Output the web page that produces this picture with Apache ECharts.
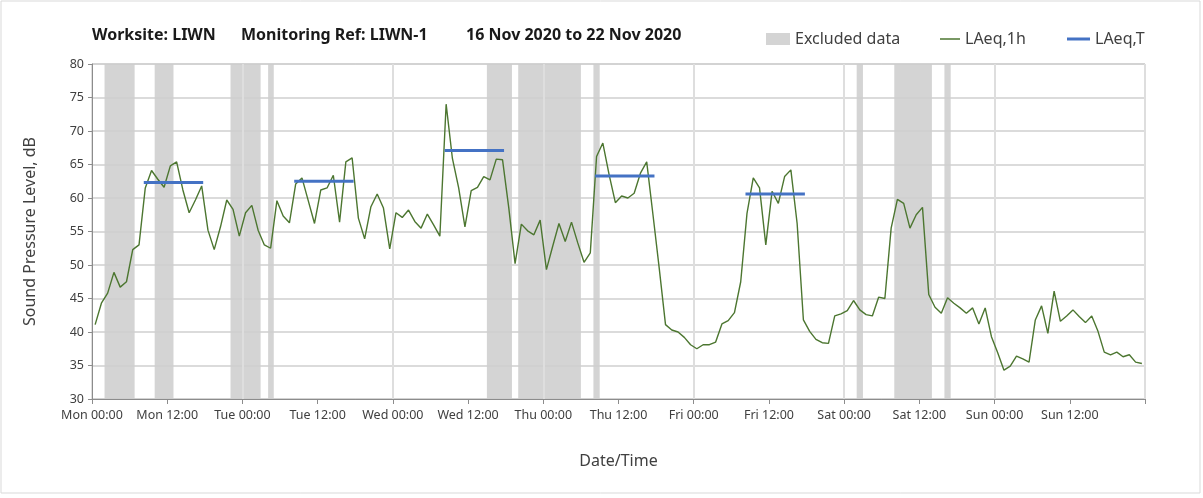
<!DOCTYPE html>
<html>
<head>
<meta charset="utf-8">
<script src="https://cdn.jsdelivr.net/npm/echarts@6/dist/echarts.min.js"></script>
<style>
  html, body { margin: 0; padding: 0; background: #fff; }
  #chart { width: 1203px; height: 498px; }
</style>
</head>
<body>
<div id="chart"></div>
<script>
// hourly LAeq,1h values, Mon 00:00 onwards (one per hour)
var laeq1h = [
  41.1, 44.3, 45.8, 48.9, 46.7, 47.5, 52.3, 53.0, 61.5, 64.1, 62.8, 61.6,
  64.8, 65.4, 61.2, 57.8, 59.7, 61.8, 55.2, 52.3, 55.7, 59.7, 58.3, 54.3,
  57.8, 58.9, 55.2, 53.0, 52.5, 59.6, 57.3, 56.3, 62.1, 63.0, 59.6, 56.2,
  61.2, 61.5, 63.4, 56.4, 65.4, 66.0, 57.0, 53.9, 58.7, 60.6, 58.5, 52.4,
  57.8, 57.1, 58.2, 56.5, 55.5, 57.6, 56.0, 54.3, 74.0, 65.9, 61.5, 55.7,
  61.1, 61.6, 63.2, 62.7, 65.8, 65.7, 58.5, 50.2, 56.1, 55.1, 54.5, 56.7,
  49.3, 52.8, 56.2, 53.5, 56.4, 53.3, 50.4, 51.8, 66.2, 68.2, 63.5, 59.3,
  60.3, 60.0, 60.7, 63.7, 65.4, 57.5, 49.5, 41.1, 40.3, 40.0, 39.2, 38.1,
  37.5, 38.1, 38.1, 38.5, 41.2, 41.7, 42.9, 47.5, 57.7, 63.0, 61.5, 53.0,
  61.0, 59.2, 63.2, 64.2, 56.2, 41.8, 40.1, 38.9, 38.4, 38.3, 42.4, 42.7,
  43.2, 44.7, 43.3, 42.6, 42.4, 45.2, 45.0, 55.5, 59.8, 59.2, 55.5, 57.5,
  58.6, 45.6, 43.7, 42.8, 45.1, 44.3, 43.6, 42.8, 43.6, 41.2, 43.6, 39.3,
  36.9, 34.3, 34.9, 36.4, 36.0, 35.5, 41.8, 43.9, 39.8, 46.1, 41.6, 42.4,
  43.3, 42.3, 41.4, 42.4, 40.1, 37.0, 36.6, 37.0, 36.3, 36.6, 35.5, 35.3
];

// LAeq,T daytime periods (hours from Mon 00:00)
var periodStart = [8.5, 32.5, 56.5, 80.5, 104.5];
var periodEnd   = [17.5, 41.5, 65.5, 89.5, 113.5];
var periodLevel = [62.3, 62.5, 67.1, 63.3, 60.6];

// excluded data spans (hours from Mon 00:00)
var excludedStart = [2, 10, 22.1, 28.1, 63, 68, 80, 122, 128, 136];
var excludedEnd   = [6.8, 13, 26.9, 29, 67, 78, 81, 123, 134, 137];

var tickLabels = [
  'Mon 00:00', 'Mon 12:00', 'Tue 00:00', 'Tue 12:00', 'Wed 00:00', 'Wed 12:00',
  'Thu 00:00', 'Thu 12:00', 'Fri 00:00', 'Fri 12:00', 'Sat 00:00', 'Sat 12:00',
  'Sun 00:00', 'Sun 12:00'
];

var FONT = 'Noto Sans';
var GREEN = '#4c7630';
var BLUE = '#4472c4';
var chart = echarts.init(document.getElementById('chart'));

var lineData = laeq1h.map(function (v, i) { return [i + 0.5, v]; });
var bandData = excludedStart.map(function (s, i) { return [s, excludedEnd[i]]; });

var series = [
  {
    name: 'Excluded data',
    type: 'custom',
    z: -1,
    silent: true,
    itemStyle: { color: '#d4d4d4' },
    encode: { x: [0, 1] },
    data: bandData,
    renderItem: function (params, api) {
      var cs = params.coordSys;
      var a = api.coord([api.value(0), 30]);
      var b = api.coord([api.value(1), 30]);
      return {
        type: 'rect',
        shape: { x: a[0], y: cs.y, width: b[0] - a[0], height: cs.height },
        style: { fill: '#d4d4d4' }
      };
    }
  },
  {
    name: 'LAeq,1h',
    type: 'line',
    symbol: 'none',
    itemStyle: { color: GREEN },
    lineStyle: { width: 1.4, color: GREEN },
    data: lineData
  }
];

periodStart.forEach(function (s, i) {
  series.push({
    name: 'LAeq,T',
    type: 'line',
    symbol: 'none',
    itemStyle: { color: BLUE },
    lineStyle: { width: 3, color: BLUE, cap: 'square' },
    data: [[s, periodLevel[i]], [periodEnd[i], periodLevel[i]]]
  });
});

function legendAt(name, left, w, h) {
  return {
    data: [{ name: name, icon: 'rect' }],
    left: left, top: 31, padding: 0,
    itemWidth: w, itemHeight: h,
    selectedMode: false,
    textStyle: { fontFamily: FONT, fontSize: 16, color: '#404040' }
  };
}

chart.setOption({
  animation: false,
  textStyle: { fontFamily: FONT },
  title: [
    { text: 'Worksite: LIWN', left: 92 },
    { text: 'Monitoring Ref: LIWN-1', left: 241 },
    { text: '16 Nov 2020 to 22 Nov 2020', left: 466 }
  ].map(function (t) {
    t.top = 27;
    t.padding = 0;
    t.textStyle = { fontFamily: FONT, fontSize: 16, fontWeight: 'bold', color: '#1a1a1a' };
    return t;
  }),
  legend: [
    legendAt('Excluded data', 766, 24, 12),
    legendAt('LAeq,1h', 940, 20, 1.5),
    legendAt('LAeq,T', 1067, 23, 3)
  ],
  grid: {
    left: 92, right: 58, top: 64, bottom: 99,
    show: true, borderColor: '#bfbfbf', borderWidth: 1
  },
  xAxis: [
    {
      type: 'value',
      min: 0, max: 168, interval: 12,
      name: 'Date/Time',
      nameLocation: 'middle',
      nameGap: 54,
      nameTextStyle: { fontFamily: FONT, fontSize: 16, color: '#404040' },
      axisLine: { lineStyle: { color: '#8c8c8c' } },
      axisTick: { length: 5, lineStyle: { color: '#8c8c8c' } },
      axisLabel: {
        margin: 10,
        fontSize: 12.5,
        color: '#404040',
        formatter: function (v) { return tickLabels[v / 12] || ''; }
      },
      splitLine: { show: false }
    },
    {
      type: 'value',
      min: 0, max: 168, interval: 24,
      position: 'bottom',
      axisLine: { show: false },
      axisTick: { show: false },
      axisLabel: { show: false },
      splitLine: { show: true, lineStyle: { color: '#dedede', width: 2 } }
    }
  ],
  yAxis: {
    type: 'value',
    min: 30, max: 80, interval: 5,
    name: 'Sound Pressure Level, dB',
    nameLocation: 'middle',
    nameGap: 54,
    nameTextStyle: { fontFamily: FONT, fontSize: 16, color: '#404040' },
    axisLine: { show: true, lineStyle: { color: '#8c8c8c' } },
    axisTick: { show: true, length: 4, lineStyle: { color: '#8c8c8c' } },
    axisLabel: { fontSize: 12.5, color: '#404040', margin: 8 },
    splitLine: { lineStyle: { color: '#cfcfcf', width: 1.5 } }
  },
  graphic: [{
    type: 'rect',
    shape: { x: 1, y: 1, width: 1199, height: 492 },
    style: { fill: 'none', stroke: '#d9d9d9', lineWidth: 1 },
    silent: true
  }],
  series: series
});
</script>
</body>
</html>
